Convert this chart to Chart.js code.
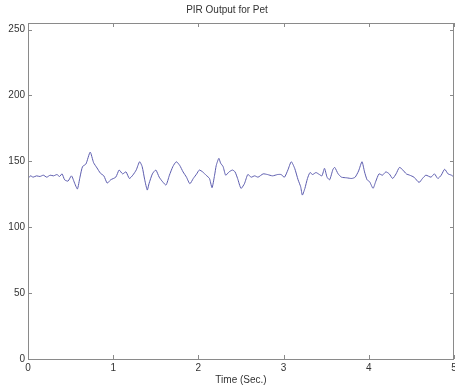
<!DOCTYPE html>
<html>
<head>
<meta charset="utf-8">
<script src="https://cdn.jsdelivr.net/npm/chart.js@4"></script>
<style>
  html, body { margin: 0; padding: 0; background: #fff; }
  #wrap { width: 455px; height: 389px; }
</style>
</head>
<body>
<div id="wrap"><canvas id="pir"></canvas></div>
<script>
// PIR sensor output
const times = [
  0.00, 0.03, 0.06, 0.10, 0.14, 0.18, 0.22, 0.26, 0.30, 0.34, 0.37, 0.40,
  0.43, 0.47, 0.51, 0.55, 0.58, 0.61, 0.64, 0.68, 0.73, 0.77, 0.81, 0.85,
  0.89, 0.93, 0.97, 1.03, 1.07, 1.11, 1.15, 1.19, 1.23, 1.27, 1.31, 1.34,
  1.37, 1.40, 1.42, 1.46, 1.50, 1.54, 1.58, 1.62, 1.66, 1.70, 1.74, 1.78,
  1.82, 1.86, 1.90, 1.94, 1.98, 2.01, 2.05, 2.09, 2.13, 2.16, 2.19, 2.21,
  2.24, 2.26, 2.29, 2.32, 2.36, 2.40, 2.43, 2.46, 2.50, 2.54, 2.58, 2.62,
  2.66, 2.70, 2.76, 2.81, 2.87, 2.93, 2.97, 3.01, 3.05, 3.09, 3.13, 3.17,
  3.20, 3.22, 3.25, 3.28, 3.31, 3.34, 3.38, 3.42, 3.45, 3.48, 3.51, 3.54,
  3.58, 3.60, 3.64, 3.68, 3.74, 3.80, 3.84, 3.88, 3.92, 3.95, 3.98, 4.01,
  4.05, 4.08, 4.12, 4.16, 4.20, 4.24, 4.28, 4.32, 4.36, 4.40, 4.44, 4.48,
  4.53, 4.59, 4.63, 4.67, 4.73, 4.77, 4.81, 4.85, 4.89, 4.93, 4.97, 5.00
];
const pirValues = [
  137, 139, 138, 139, 138.5, 139.5, 138, 139.5, 139, 140, 138.5, 140.5,
  136, 135, 139, 133, 129, 138, 146, 148, 157, 149, 145, 141,
  139, 133.5, 136, 138, 143.4, 140.5, 142, 137, 139.5, 143.4, 149.7, 146,
  136, 128.2, 133, 140.5, 143.4, 138, 134.5, 132, 139.5, 146, 149.7, 147,
  142, 138, 133, 137, 140.5, 143.4, 142, 139.5, 137, 130, 139.5, 147,
  152.3, 148.7, 146, 139.5, 142, 143.4, 142, 137, 129.5, 133, 140, 138,
  139, 138, 140.5, 140, 139, 140, 140, 138, 143.4, 149.7, 144.7, 136,
  130.8, 124.4, 129.5, 137, 141.5, 140, 141.5, 140, 139, 144.7, 138, 136,
  144, 145.4, 140.5, 138, 137.5, 137, 138, 142.7, 149.7, 142, 136, 134.5,
  129.5, 134.5, 140.5, 139.5, 142, 140.5, 137, 140.5, 145.4, 143.4, 140.5, 139.5,
  138, 134, 137, 139.5, 138, 140.5, 137, 139.5, 144, 140.5, 139.5, 138
];
const xTicks = [0, 1, 2, 3, 4, 5];
const yTicks = [0, 50, 100, 150, 200, 250];

const axisColor = '#8a8a8a';
const textColor = '#333333';

// MATLAB-like box with inward tick marks
const boxTicks = {
  id: 'boxTicks',
  afterDraw(chart) {
    const { ctx, chartArea: a, scales } = chart;
    const len = 4;
    ctx.save();
    ctx.strokeStyle = axisColor;
    ctx.lineWidth = 1;
    ctx.strokeRect(a.left + 0.5, a.top + 0.5, a.right - a.left - 1, a.bottom - a.top);
    ctx.beginPath();
    xTicks.forEach(t => {
      const px = Math.round(scales.x.getPixelForValue(t)) + 0.5;
      ctx.moveTo(px, a.bottom); ctx.lineTo(px, a.bottom - len);
      ctx.moveTo(px, a.top); ctx.lineTo(px, a.top + len);
    });
    yTicks.forEach(t => {
      const py = Math.round(scales.y.getPixelForValue(t)) + 0.5;
      ctx.moveTo(a.left, py); ctx.lineTo(a.left + len, py);
      ctx.moveTo(a.right, py); ctx.lineTo(a.right - len, py);
    });
    ctx.stroke();
    ctx.restore();
  }
};

new Chart(document.getElementById('pir'), {
  type: 'line',
  data: {
    datasets: [{
      data: times.map((t, i) => ({ x: t, y: pirValues[i] })),
      borderColor: '#5c5cae',
      borderWidth: 1,
      pointRadius: 0,
      tension: 0.2,
      fill: false
    }]
  },
  options: {
    responsive: true,
    maintainAspectRatio: false,
    animation: false,
    layout: { padding: { left: 0, right: 1, top: 0, bottom: 0 } },
    plugins: {
      legend: { display: false },
      tooltip: { enabled: false },
      title: {
        display: true,
        text: 'PIR Output for Pet',
        color: textColor,
        font: { family: 'Liberation Sans, Arial', size: 10, weight: 'normal' },
        padding: { top: 4, bottom: 7 }
      }
    },
    scales: {
      x: {
        type: 'linear',
        min: 0,
        max: 5,
        afterBuildTicks: s => { s.ticks = xTicks.map(v => ({ value: v })); },
        afterFit: s => { s.height = 30; s.paddingLeft = 0; s.paddingRight = 0; },
        grid: { display: false, drawTicks: false, tickLength: 0 },
        border: { display: false },
        ticks: {
          color: textColor,
          padding: 3,
          maxRotation: 0,
          font: { family: 'Liberation Sans, Arial', size: 10 }
        },
        title: {
          display: true,
          text: 'Time (Sec.)',
          color: textColor,
          padding: { top: 0, bottom: 3 },
          font: { family: 'Liberation Sans, Arial', size: 10 }
        }
      },
      y: {
        min: 0,
        max: 255,
        afterBuildTicks: s => { s.ticks = yTicks.map(v => ({ value: v })); },
        afterFit: s => { s.width = 28; },
        grid: { display: false, drawTicks: false, tickLength: 0 },
        border: { display: false },
        ticks: {
          color: textColor,
          padding: 3,
          font: { family: 'Liberation Sans, Arial', size: 10 }
        }
      }
    }
  },
  plugins: [boxTicks]
});
</script>
</body>
</html>
